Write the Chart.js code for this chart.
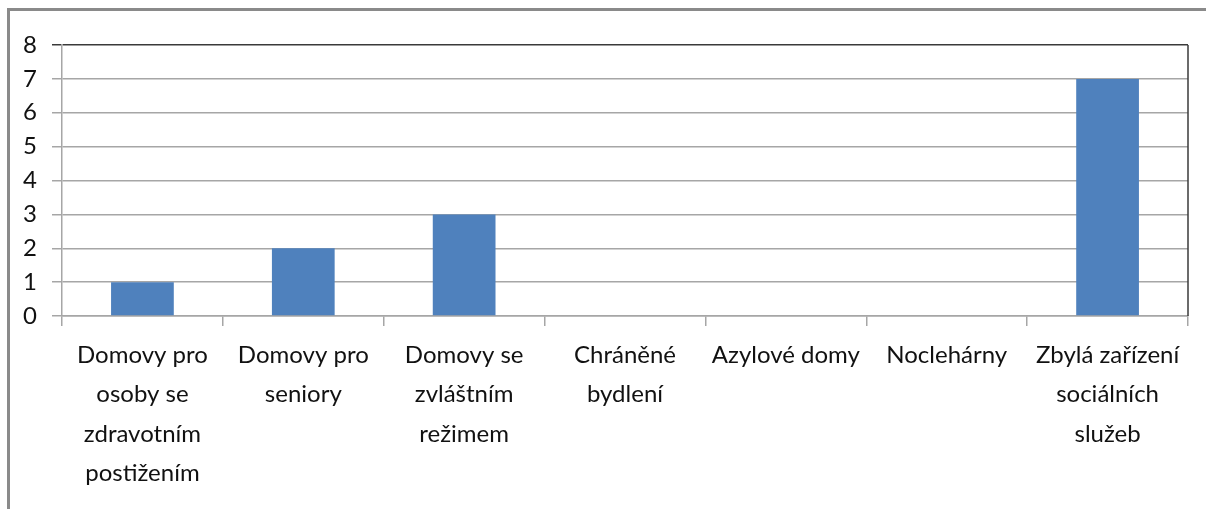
<!DOCTYPE html>
<html>
<head>
<meta charset="utf-8">
<script src="https://cdn.jsdelivr.net/npm/chart.js@4.4.1/dist/chart.umd.min.js"></script>
<style>
  html, body { margin: 0; padding: 0; background: #fff; overflow: hidden; }
  #frame { position: absolute; left: 7px; top: 8px; width: 1400px; height: 700px; border: 3px solid #8a8a8a; box-sizing: border-box; }
  #wrap { position: absolute; left: 0; top: 0; width: 1206px; height: 509px; }
</style>
</head>
<body>
<div id="frame"></div>
<div id="wrap"><canvas id="c"></canvas></div>
<script>
const categories = [
  ["Domovy pro", "osoby se", "zdravotním", "postižením"],
  ["Domovy pro", "seniory"],
  ["Domovy se", "zvláštním", "režimem"],
  ["Chráněné", "bydlení"],
  ["Azylové domy"],
  ["Noclehárny"],
  ["Zbylá zařízení", "sociálních", "služeb"]
];
const values = [1, 2, 3, 0, 0, 0, 7];
const yMin = 0, yMax = 8, yStep = 1;

const FONT = "Lato, 'Open Sans', sans-serif";

const borderPlugin = {
  id: 'rightBorder',
  afterDatasetsDraw(chart) {
    const a = chart.chartArea, ctx = chart.ctx;
    ctx.save();
    ctx.strokeStyle = '#3a3a3a';
    ctx.lineWidth = 1.5;
    ctx.beginPath();
    ctx.moveTo(a.right, a.top);
    ctx.lineTo(a.right, a.bottom);
    ctx.stroke();
    ctx.restore();
  }
};

new Chart(document.getElementById('c'), {
  type: 'bar',
  data: {
    labels: categories,
    datasets: [{
      data: values,
      backgroundColor: '#4f81bd',
      borderWidth: 0,
      categoryPercentage: 1,
      barPercentage: 0.39
    }]
  },
  options: {
    responsive: true,
    maintainAspectRatio: false,
    animation: false,
    layout: { padding: { left: 0, top: 45, right: 18, bottom: 0 } },
    plugins: { legend: { display: false }, tooltip: { enabled: false } },
    scales: {
      x: {
        offset: true,
        grid: { offset: true, drawOnChartArea: false, drawTicks: true, tickLength: 10, color: '#a6a6a6', lineWidth: 1.5 },
        border: { display: true, color: '#a6a6a6', width: 1.5 },
        ticks: { color: '#111', font: { family: FONT, size: 24, lineHeight: 1.63 }, padding: 10, maxRotation: 0, autoSkip: false },
        afterFit(scale) { scale.height = 193; }
      },
      y: {
        min: yMin, max: yMax,
        grid: {
          color: (c) => (c.tick && c.tick.value === yMax) ? '#3a3a3a' : '#a6a6a6',
          lineWidth: 1.5,
          tickLength: 10,
          drawTicks: true
        },
        border: { display: true, color: '#a6a6a6', width: 1.5 },
        ticks: { stepSize: yStep, color: '#111', font: { family: FONT, size: 24 }, padding: 15 },
        afterFit(scale) { scale.width = 62; }
      }
    }
  },
  plugins: [borderPlugin]
});
</script>
</body>
</html>
